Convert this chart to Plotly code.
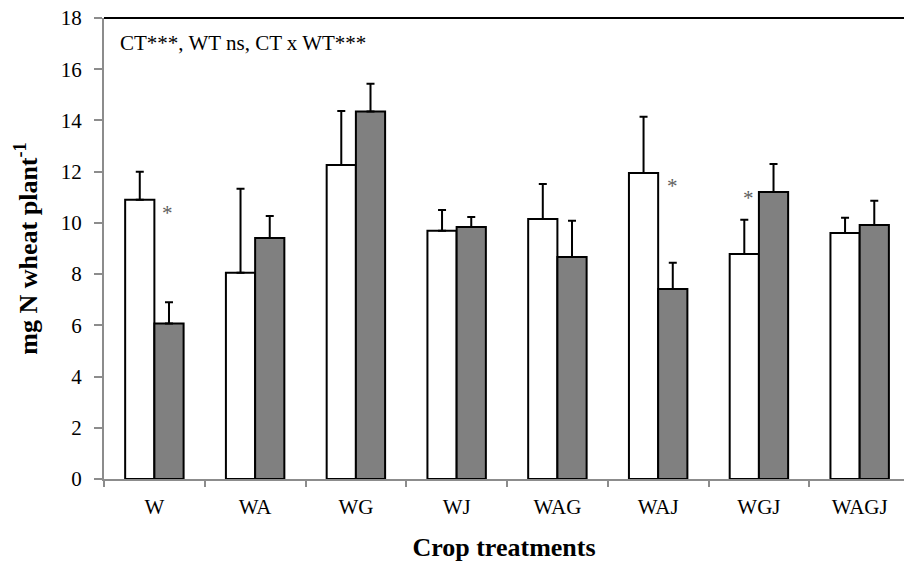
import plotly.graph_objects as go

categories = ["W", "WA", "WG", "WJ", "WAG", "WAJ", "WGJ", "WAGJ"]
white_vals = [10.9, 8.05, 12.26, 9.69, 10.15, 11.95, 8.79, 9.61]
white_tops = [12.0, 11.33, 14.37, 10.5, 11.52, 14.14, 10.12, 10.2]
grey_vals = [6.07, 9.41, 14.35, 9.84, 8.67, 7.42, 11.21, 9.92]
grey_tops = [6.9, 10.27, 15.43, 10.23, 10.08, 8.44, 12.3, 10.86]
# significance markers: (category, y value, x shift px)
stars = [("W", 10.4, 13), ("WAJ", 11.45, 14), ("WGJ", 10.98, -10)]
yticks = [0, 2, 4, 6, 8, 10, 12, 14, 16, 18]

FONT = "Liberation Serif"

fig = go.Figure()
fig.add_bar(
    x=categories, y=white_vals, name="white",
    marker=dict(color="white", line=dict(color="black", width=2)),
    error_y=dict(type="data", symmetric=False,
                 array=[t - v for t, v in zip(white_tops, white_vals)],
                 arrayminus=[0] * len(white_vals),
                 color="black", thickness=2, width=4),
)
fig.add_bar(
    x=categories, y=grey_vals, name="grey",
    marker=dict(color="#808080", line=dict(color="black", width=2)),
    error_y=dict(type="data", symmetric=False,
                 array=[t - v for t, v in zip(grey_tops, grey_vals)],
                 arrayminus=[0] * len(grey_vals),
                 color="black", thickness=2, width=4),
)

for cat, yv, xs in stars:
    fig.add_annotation(x=cat, y=yv, text="*", showarrow=False, xshift=xs,
                       font=dict(family=FONT, size=21, color="#606060"))

fig.add_annotation(xref="paper", yref="paper", x=0.017, y=0.945,
                   xanchor="left", yanchor="middle", showarrow=False,
                   text="CT***, WT ns, CT x WT***",
                   font=dict(family=FONT, size=21, color="black"))

fig.add_shape(type="line", xref="paper", yref="paper", x0=0, x1=1, y0=1, y1=1,
              line=dict(color="black", width=2))

fig.update_layout(
    width=904, height=562,
    margin=dict(l=104, r=0, t=18, b=83),
    plot_bgcolor="white", paper_bgcolor="white",
    barmode="group", bargap=0.42, bargroupgap=0,
    showlegend=False,
    font=dict(family=FONT, size=21, color="black"),
)
fig.update_xaxes(
    range=[-0.5, 7.44], showline=True, linecolor="#8c8c8c", linewidth=2,
    ticks="outside", tickson="boundaries", ticklen=6, tickcolor="#8c8c8c", tickwidth=2,
    ticklabelstandoff=8,
    showgrid=False, tickfont=dict(family=FONT, size=21),
    title=dict(text="<b>Crop treatments</b>", font=dict(family=FONT, size=26), standoff=20),
)
fig.update_yaxes(
    range=[0, 18], tickvals=yticks, showline=True, linecolor="#8c8c8c", linewidth=2,
    ticks="outside", ticklen=8, tickcolor="#8c8c8c", tickwidth=2,
    ticklabelstandoff=8,
    showgrid=False, zeroline=False, tickfont=dict(family=FONT, size=21),
    title=dict(text="<b>mg N wheat plant<sup>-1</sup></b>", font=dict(family=FONT, size=26), standoff=16),
)

fig.write_html("out.html")
